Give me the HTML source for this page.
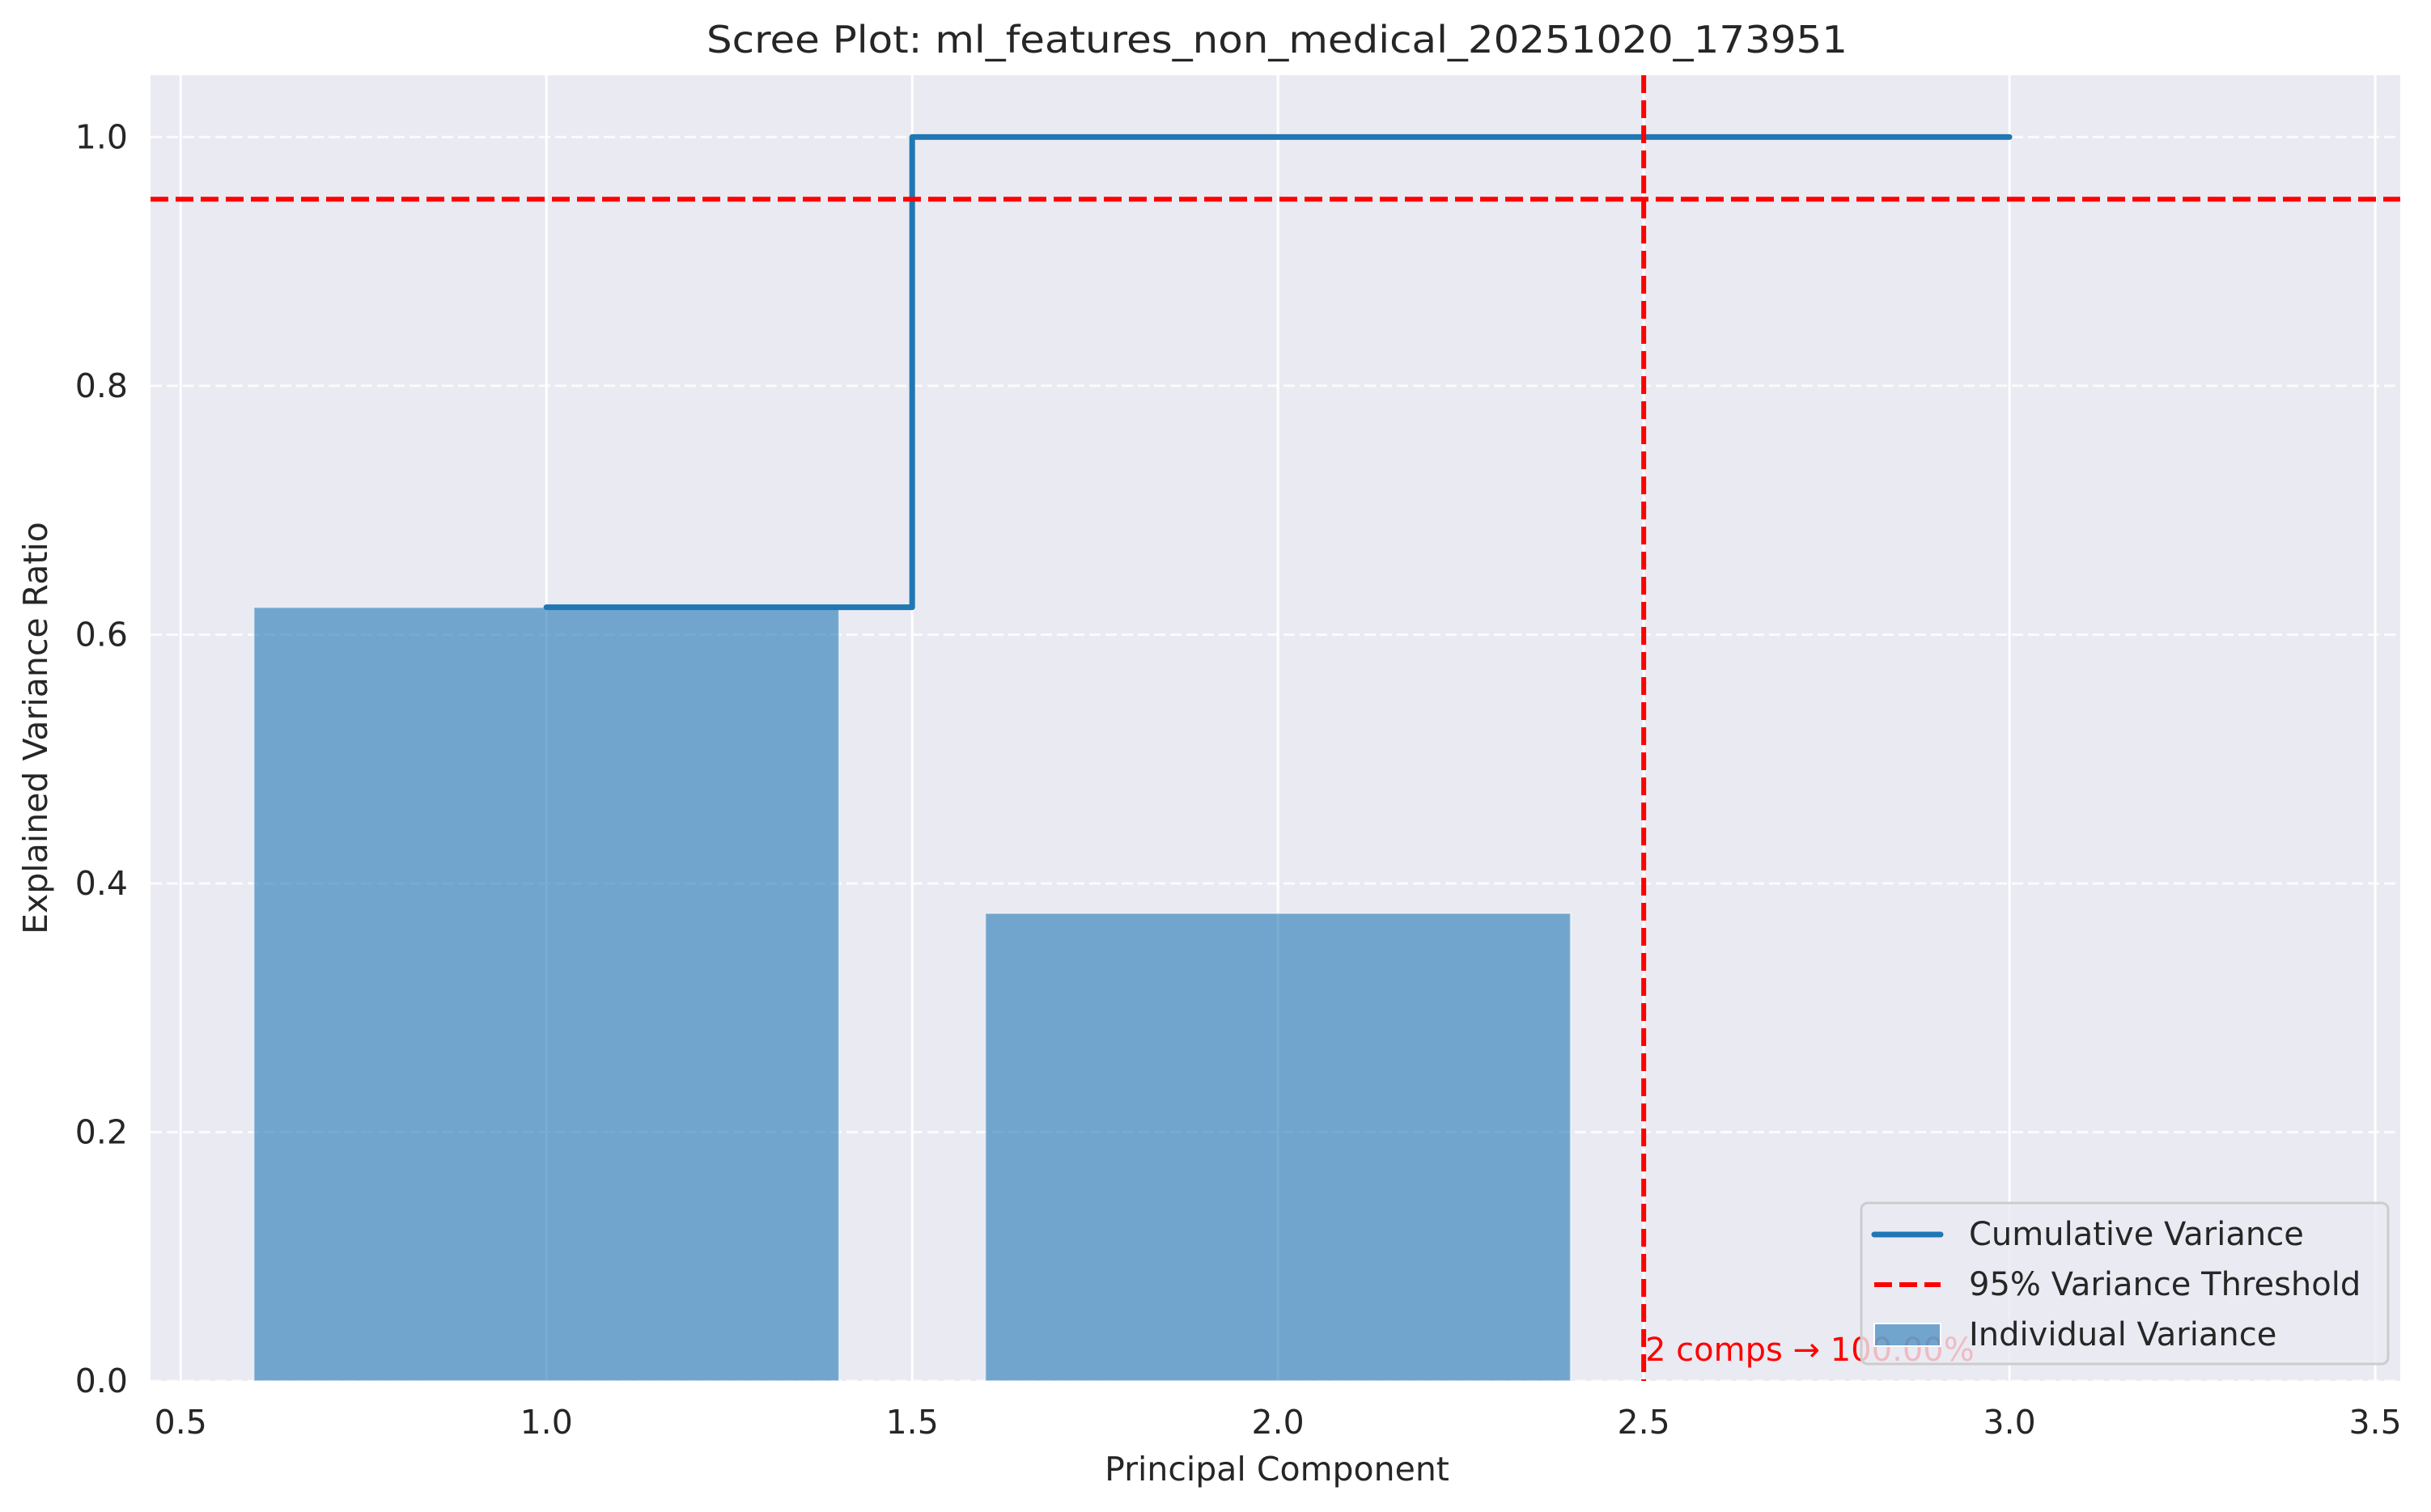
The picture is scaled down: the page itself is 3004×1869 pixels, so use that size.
<!DOCTYPE html>
<html><head><meta charset="utf-8"><style>
html,body{margin:0;padding:0;background:#fff}
svg{display:block}
text{font-family:"DejaVu Sans","Liberation Sans",sans-serif;fill:#262626}
</style></head><body>
<svg id="chart" width="3004" height="1869" viewBox="0 0 3004 1869" xmlns="http://www.w3.org/2000/svg">
<text x="1578" y="65" font-size="46" text-anchor="middle" textLength="1410" lengthAdjust="spacingAndGlyphs">Scree Plot: ml_features_non_medical_20251020_173951</text>
<rect x="186" y="93" width="2780" height="1614" fill="#eaeaf2"/>
<g id="grid"></g>
<g id="bars"></g>
<g id="lines"></g>
<g id="ticks"></g>
<text x="1578" y="1830" font-size="41" text-anchor="middle">Principal Component</text>
<text x="0" y="0" font-size="41" text-anchor="middle" transform="translate(58,900) rotate(-90)">Explained Variance Ratio</text>
<text x="2033" y="1682" font-size="40" fill="#ff0000" style="fill:#ff0000">2 comps → 100.00%</text>
<g>
<rect x="2300" y="1487" width="651" height="199" rx="8" fill="#eaeaf2" fill-opacity="0.8" stroke="#cccccc" stroke-width="3"/>
<line x1="2316" y1="1526" x2="2398" y2="1526" stroke="#1f77b4" stroke-width="7" stroke-linecap="round"/>
<text x="2433" y="1539" font-size="40">Cumulative Variance</text>
<line x1="2316" y1="1588" x2="2398" y2="1588" stroke="#ff0000" stroke-width="6" stroke-dasharray="22,9"/>
<text x="2433" y="1601" font-size="40">95% Variance Threshold</text>
<rect x="2316" y="1636" width="82" height="28" fill="#1f77b4" fill-opacity="0.6" stroke="#fff" stroke-width="2"/>
<text x="2433" y="1663" font-size="40">Individual Variance</text>
</g>
</svg>
<script>
const components = [1, 2];
const individualVariance = [0.622, 0.376];
const cumulativeVariance = [0.622, 1.0];
const xTicks = [0.5, 1.0, 1.5, 2.0, 2.5, 3.0, 3.5];
const xTickLabels = ["0.5", "1.0", "1.5", "2.0", "2.5", "3.0", "3.5"];
const yTicks = [0, 0.2, 0.4, 0.6, 0.8, 1.0];
const yTickLabels = ["0.0", "0.2", "0.4", "0.6", "0.8", "1.0"];
const threshold = [0.95];
const nComponentsNeeded = [2];
const lineEndX = [3];

const NS = "http://www.w3.org/2000/svg";
const X0 = 186, X1 = 2966, Y0 = 1707, Y1 = 93;
const xmin = 0.4588, xmax = 3.5342, ymin = 0, ymax = 1.0497;
function xs(v){ return X0 + (v - xmin) / (xmax - xmin) * (X1 - X0); }
function ys(v){ return Y0 - (v - ymin) / (ymax - ymin) * (Y0 - Y1); }
function mk(tag, attrs, parent){ const e = document.createElementNS(NS, tag); for (const k in attrs) e.setAttribute(k, attrs[k]); parent.appendChild(e); return e; }

const grid = document.getElementById('grid');
xTicks.forEach((t) => {
  const l = mk('line', {x1: xs(t), x2: xs(t), y1: Y1, y2: Y0, stroke: '#fff', 'stroke-width': 3}, grid);
  
  
});
yTicks.forEach((t) => {
  const l = mk('line', {x1: X0, x2: X1, y1: ys(t), y2: ys(t), stroke: '#fff', 'stroke-width': 3, 'stroke-dasharray': '14,6', 'stroke-opacity': 0.8}, grid);
  
  
});

const bars = document.getElementById('bars');
components.forEach((c, i) => {
  const b = mk('rect', {x: xs(c - 0.4), y: ys(individualVariance[i]), width: xs(c + 0.4) - xs(c - 0.4), height: ys(0) - ys(individualVariance[i]), fill: '#1f77b4', 'fill-opacity': 0.6, stroke: '#fff', 'stroke-opacity': 0.5, 'stroke-width': 2}, bars);
  
  
});

const lines = document.getElementById('lines');
const xsArr = components.concat(lineEndX);
const ysArr = cumulativeVariance.concat([cumulativeVariance[cumulativeVariance.length - 1]]);
let d = 'M' + xs(xsArr[0]) + ',' + ys(ysArr[0]);
for (let i = 1; i < xsArr.length; i++) {
  if (i < components.length) {
    const mid = (xsArr[i - 1] + xsArr[i]) / 2;
    d += ' L' + xs(mid) + ',' + ys(ysArr[i - 1]) + ' L' + xs(mid) + ',' + ys(ysArr[i]);
  }
  d += ' L' + xs(xsArr[i]) + ',' + ys(ysArr[i]);
}
const step = mk('path', {d: d, fill: 'none', stroke: '#1f77b4', 'stroke-width': 7, 'stroke-linecap': 'round', 'stroke-linejoin': 'round'}, lines);



const th = mk('line', {x1: X0, x2: X1, y1: ys(threshold[0]), y2: ys(threshold[0]), stroke: '#ff0000', 'stroke-width': 6, 'stroke-dasharray': '22,9'}, lines);


const vx = xs(nComponentsNeeded[0] + 0.5);
const vl = mk('line', {x1: vx, x2: vx, y1: Y1, y2: Y0, stroke: '#ff0000', 'stroke-width': 6, 'stroke-dasharray': '22,9'}, lines);



const ticks = document.getElementById('ticks');
xTicks.forEach((t, i) => {
  const tx = mk('text', {x: xs(t), y: 1772, 'font-size': 41, 'text-anchor': 'middle'}, ticks);
  tx.textContent = xTickLabels[i];
  
  
});
yTicks.forEach((t, i) => {
  const tx = mk('text', {x: 158, y: ys(t) + 14, 'font-size': 41, 'text-anchor': 'end'}, ticks);
  tx.textContent = yTickLabels[i];
  
  
});
</script>
</body></html>
